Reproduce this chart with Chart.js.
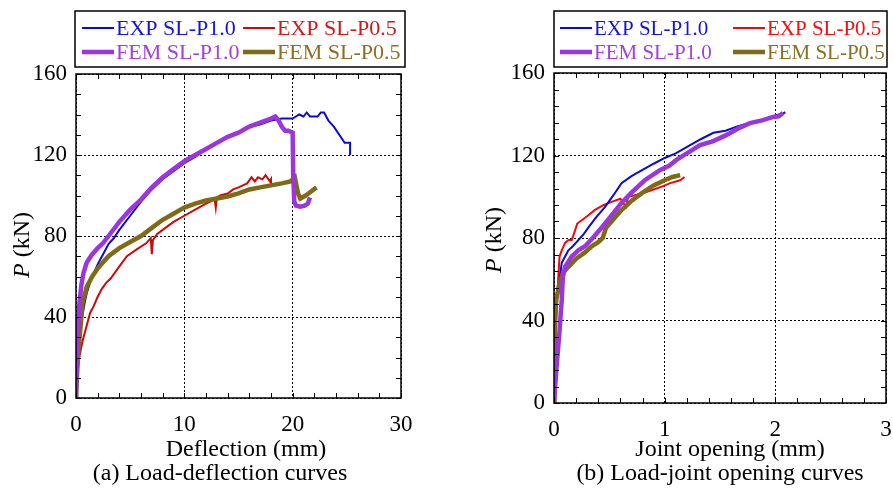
<!DOCTYPE html>
<html>
<head>
<meta charset="utf-8">
<script src="https://cdn.jsdelivr.net/npm/chart.js@4.4.0/dist/chart.umd.min.js"></script>
<style>
  html, body { margin: 0; padding: 0; background: #fff; }
  #wrap { position: relative; width: 893px; height: 489px; }
  canvas { position: absolute; top: 0; }
</style>
</head>
<body>
<div id="wrap">
  <canvas id="defChart" width="446" height="489" style="left:0"></canvas>
  <canvas id="jointChart" width="447" height="489" style="left:446px"></canvas>
</div>
<script>
const SERIF = "'Liberation Serif', 'Times New Roman', Times, serif";

const seriesNames = ["EXP SL-P1.0", "EXP SL-P0.5", "FEM SL-P1.0", "FEM SL-P0.5"];

// * (a) load - deflection
const defExpP10X = [0, 0.1, 0.3, 0.5, 0.8, 1, 1.3, 1.6, 2, 2.5, 3, 3.5, 4, 5, 6, 7, 8, 9, 10, 11, 12, 13, 14, 15, 16, 17, 18, 19, 20, 20.3, 20.6, 21, 21.3, 21.6, 22.3, 22.6, 22.9, 23.3, 23.8, 24.3, 24.8, 25.3, 25.3];
const defExpP10Y = [0, 12, 28, 38, 47, 52, 57, 61, 66, 71, 76, 79, 83, 90, 97, 103, 108, 112, 116, 119, 123, 126, 129, 131, 134, 135, 137, 138, 138, 139, 140, 139, 141, 139, 139, 141, 141, 137, 134, 130, 126, 126, 120];
const defExpP05X = [0, 0.1, 0.3, 0.6, 1, 1.3, 1.6, 2, 2.4, 2.8, 3.2, 4, 4.7, 5.5, 6.5, 6.9, 7, 7.1, 7.5, 8, 9, 10, 11, 12, 12.8, 12.9, 13, 13.3, 14, 14.5, 15, 15.8, 16.2, 16.5, 16.8, 17.2, 17.5, 17.9, 18, 18];
const defExpP05Y = [0, 10, 20, 28, 36, 42, 45, 50, 54, 57, 59, 65, 70, 73, 76.5, 79, 71, 78, 81, 83, 87, 90, 93, 96, 98, 94, 99, 100, 101, 103, 104, 106, 109, 107, 109, 108, 110, 107, 108, 105];
const defFemP10X = [0, 0.1, 0.2, 0.3, 0.5, 0.7, 1, 1.5, 2, 2.5, 3, 4, 5, 6, 7, 8, 9, 10, 11, 12, 13, 14, 15, 16, 17, 18, 18.4, 18.7, 19, 19.3, 19.6, 20, 20.05, 20.15, 20.3, 20.7, 21.1, 21.4, 21.6];
const defFemP10Y = [0, 22, 36, 46, 56, 62, 67, 71, 74, 76.5, 80, 87, 93, 98, 104, 109, 113, 117, 120, 123, 126, 129, 131, 134, 136, 138, 139, 137, 134, 132, 132, 131, 110, 97, 95, 94.5, 95, 96, 99];
const defFemP05X = [0, 0.1, 0.2, 0.4, 0.6, 1, 1.5, 2, 2.5, 3, 4, 5, 6, 7, 8, 9, 10, 11, 12, 13, 14, 15, 16, 17, 18, 19, 19.8, 20.2, 20.5, 20.7, 21.2, 21.7, 22.2];
const defFemP05Y = [0, 12, 22, 34, 47, 55, 60, 64, 67, 70, 74, 77, 80, 84, 88, 91, 94, 96, 97.5, 98.5, 99.5, 101, 103, 104, 105, 106, 107, 109, 101, 98.5, 100, 102, 104];

// * (b) load - joint opening
const jntExpP10X = [0, 0.01, 0.02, 0.03, 0.05, 0.07, 0.1, 0.13, 0.17, 0.22, 0.27, 0.31, 0.38, 0.46, 0.54, 0.61, 0.7, 0.8, 0.9, 1.0, 1.1, 1.23, 1.33, 1.44, 1.55, 1.65, 1.75, 1.86, 1.95, 2.01, 2.06, 2.09];
const jntExpP10Y = [0, 20, 40, 52, 60, 68, 71, 74, 76, 79, 82, 85, 90, 95, 101, 106.6, 110, 113, 116, 118.8, 121, 125, 128, 131, 132, 134, 135.5, 137, 138, 139.6, 140, 141];
const jntExpP05X = [0, 0.005, 0.01, 0.02, 0.03, 0.04, 0.05, 0.07, 0.1, 0.13, 0.16, 0.18, 0.21, 0.26, 0.31, 0.37, 0.45, 0.52, 0.6, 0.65, 0.67, 0.75, 0.82, 0.9, 0.98, 1.05, 1.14, 1.18];
const jntExpP05Y = [0, 18, 35, 45, 53, 62, 71, 74, 77.6, 79, 79, 82, 87, 89, 91, 93.6, 96, 97.5, 99, 95, 100, 101, 102, 103.5, 105, 106.6, 108, 109.6];
const jntFemP10X = [0, 0.01, 0.03, 0.05, 0.07, 0.08, 0.1, 0.16, 0.22, 0.28, 0.35, 0.43, 0.52, 0.61, 0.7, 0.82, 0.96, 1.04, 1.11, 1.2, 1.32, 1.44, 1.56, 1.66, 1.77, 1.88, 1.98, 2.03, 2.07];
const jntFemP10Y = [0, 8, 22, 35, 50, 61, 66, 71, 74, 76, 80, 85, 91, 97, 102, 108, 113, 115, 118, 121, 125, 127, 130, 133, 135.7, 137, 138.7, 139, 140.6];
const jntFemP05X = [0, 0.003, 0.01, 0.02, 0.05, 0.08, 0.13, 0.2, 0.28, 0.34, 0.4, 0.44, 0.47, 0.52, 0.6, 0.7, 0.8, 0.9, 1.0, 1.07, 1.14];
const jntFemP05Y = [0, 25.7, 41.7, 50, 58, 63, 66, 70, 73, 76, 78, 80, 85, 88, 93, 98, 102, 105.5, 108, 109.6, 110.5];

const toPts = (xs, ys) => xs.map((x, i) => ({ x: x, y: ys[i] }));

// ? frame, minor ticks, titles, legend
const decor = {
  id: "decor",
  afterDraw(chart, args, o) {
    const { ctx, chartArea: a, scales } = chart;
    const x = scales.x;
    const y = scales.y;
    ctx.save();
    ctx.strokeStyle = "#000";
    ctx.lineWidth = 1;
    ctx.beginPath();
    for (let v = 0; v <= o.xMax + 1e-9; v += o.xMinor) {
      const px = Math.round(x.getPixelForValue(v)) + 0.5;
      ctx.moveTo(px, a.bottom); ctx.lineTo(px, a.bottom - 5);
      ctx.moveTo(px, a.top); ctx.lineTo(px, a.top + 5);
    }
    for (let v = 0; v <= o.yMax + 1e-9; v += o.yMinor) {
      const py = Math.round(y.getPixelForValue(v)) + 0.5;
      ctx.moveTo(a.left, py); ctx.lineTo(a.left + 5, py);
      ctx.moveTo(a.right, py); ctx.lineTo(a.right - 5, py);
    }
    ctx.stroke();
    ctx.lineWidth = 1.5;
    ctx.strokeRect(a.left, a.top, a.right - a.left, a.bottom - a.top);

    // titles
    ctx.fillStyle = "#000";
    ctx.textAlign = "center";
    ctx.textBaseline = "middle";
    ctx.font = "24px " + SERIF;
    ctx.fillText(o.xTitle, o.xTitleX, o.xTitleY);
    ctx.fillText(o.caption, o.captionX, o.captionY);

    ctx.save();
    ctx.translate(o.yTitleX, o.yTitleY);
    ctx.rotate(-Math.PI / 2);
    ctx.font = "italic 24px " + SERIF;
    const wP = ctx.measureText("P").width;
    ctx.font = "24px " + SERIF;
    const wR = ctx.measureText(" (kN)").width;
    ctx.textAlign = "left";
    ctx.font = "italic 24px " + SERIF;
    ctx.fillText("P", -(wP + wR) / 2, 0);
    ctx.font = "24px " + SERIF;
    ctx.fillText(" (kN)", -(wP + wR) / 2 + wP, 0);
    ctx.restore();

    // legend
    const L = o.legend;
    ctx.strokeStyle = "#000";
    ctx.lineWidth = 1.5;
    ctx.strokeRect(L.left, L.top, L.right - L.left, L.bottom - L.top);
    ctx.font = L.size + "px " + SERIF;
    ctx.textAlign = "left";
    chart.data.datasets.forEach((ds, i) => {
      const col = L.cols[i % 2];
      const row = L.rows[Math.floor(i / 2)];
      ctx.strokeStyle = ds.borderColor;
      ctx.lineWidth = ds.borderWidth;
      ctx.beginPath();
      ctx.moveTo(col, row);
      ctx.lineTo(col + 32, row);
      ctx.stroke();
      ctx.fillStyle = L.textColors[i];
      ctx.fillText(ds.label, col + 34, row + 1);
    });
    ctx.restore();
  },
};

function makeChart(id, sets, colors, o) {
  const datasets = sets.map((pts, i) => ({
    label: seriesNames[i],
    data: pts,
    borderColor: colors[i],
    borderWidth: i < 2 ? 2 : 4.5,
    pointRadius: 0,
    tension: 0,
    fill: false,
    order: i < 2 ? 1 : 0,
  }));
  const tickFont = { family: SERIF, size: 23 };
  return new Chart(document.getElementById(id).getContext("2d"), {
    type: "line",
    data: { datasets: datasets },
    plugins: [decor],
    options: {
      responsive: false,
      devicePixelRatio: 1,
      animation: false,
      layout: { padding: { left: 0, top: o.top, right: o.padRight, bottom: 0 } },
      plugins: {
        legend: { display: false },
        tooltip: { enabled: false },
        decor: o,
      },
      scales: {
        x: {
          type: "linear",
          min: 0,
          max: o.xMax,
          afterFit: (s) => {
            s.height = o.bottomSpace;
            s.paddingLeft = 0;
            s.paddingRight = 0;
          },
          ticks: { stepSize: o.xStep, color: "#000", font: tickFont, padding: 13, maxRotation: 0 },
          grid: { color: "#000", lineWidth: 1, drawTicks: false },
          border: { display: false, dash: [2, 2] },
        },
        y: {
          type: "linear",
          min: 0,
          max: o.yMax,
          afterFit: (s) => {
            s.width = o.leftSpace;
            s.paddingTop = 0;
            s.paddingBottom = 0;
          },
          ticks: { stepSize: 40, color: "#000", font: tickFont, padding: 9 },
          grid: { color: "#000", lineWidth: 1, drawTicks: false },
          border: { display: false, dash: [2, 2] },
        },
      },
    },
  });
}

function drawAll() {
  makeChart(
    "defChart",
    [toPts(defExpP10X, defExpP10Y), toPts(defExpP05X, defExpP05Y), toPts(defFemP10X, defFemP10Y), toPts(defFemP05X, defFemP05Y)],
    ["#0a0ad8", "#cc0a0a", "#9b35dd", "#7f6a16"],
    {
      top: 74, padRight: 45, leftSpace: 76, bottomSpace: 91,
      xMax: 30, xStep: 10, xMinor: 2, yMax: 160, yMinor: 10,
      xTitle: "Deflection (mm)", xTitleX: 246, xTitleY: 450,
      caption: "(a) Load-deflection curves", captionX: 220, captionY: 474,
      yTitleX: 23, yTitleY: 245,
      legend: {
        left: 75, right: 405, top: 11, bottom: 67, size: 22,
        cols: [82, 243], rows: [28, 52],
        textColors: ["#1414dc", "#d01818", "#a040e0", "#8a7020"],
      },
    }
  );

  makeChart(
    "jointChart",
    [toPts(jntExpP10X, jntExpP10Y), toPts(jntExpP05X, jntExpP05Y), toPts(jntFemP10X, jntFemP10Y), toPts(jntFemP05X, jntFemP05Y)],
    ["#0a0ad8", "#ee0a0a", "#9b35dd", "#7f6a16"],
    {
      top: 73, padRight: 7, leftSpace: 108, bottomSpace: 86,
      xMax: 3, xStep: 1, xMinor: 0.2, yMax: 160, yMinor: 8,
      xTitle: "Joint opening (mm)", xTitleX: 284, xTitleY: 450,
      caption: "(b) Load-joint opening curves", captionX: 274, captionY: 474,
      yTitleX: 49, yTitleY: 240,
      legend: {
        left: 108, right: 441, top: 11, bottom: 67, size: 21,
        cols: [114, 287], rows: [28, 52],
        textColors: ["#1414dc", "#f01010", "#a040e0", "#8a7020"],
      },
    }
  );
}

Promise.all([
  document.fonts.load("22px 'Liberation Serif'"),
  document.fonts.load("italic 22px 'Liberation Serif'"),
]).then(drawAll, drawAll);
</script>
</body>
</html>
